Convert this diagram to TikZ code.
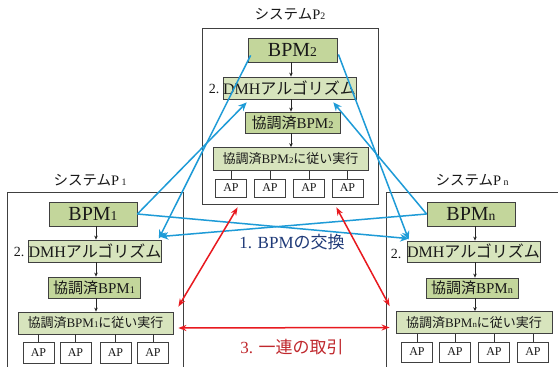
\documentclass[tikz,border=0pt]{standalone}
\usepackage{fontspec}
\setmainfont{Liberation Serif}
\newfontfamily\jp{Noto Sans CJK JP}
\usetikzlibrary{arrows.meta}
\definecolor{dgreen}{HTML}{C3D69B}
\definecolor{lgreen}{HTML}{D7E4BD}
\definecolor{ablue}{HTML}{1E9BD7}
\definecolor{ared}{HTML}{E8191F}
\definecolor{tblue}{HTML}{1F3A78}
\definecolor{tred}{HTML}{C0282D}
\newcommand\sm[1]{\scalebox{0.68}{#1}}
\newcommand\fs[1]{\fontsize{#1}{#1}\selectfont}
\begin{document}
\begin{tikzpicture}[x=1pt,y=-1pt,
  box/.style={draw=black!75, line width=0.8pt, inner sep=0pt, text=black!90},
  dk/.style={box, fill=dgreen},
  lt/.style={box, fill=lgreen},
  apbox/.style={box, fill=white, minimum width=31, font=\fs{12}},
  sys/.style={draw=black!75, line width=0.8pt, inner sep=0pt},
  flow/.style={-{Stealth[length=4pt,width=3.5pt]}, line width=0.6pt, black!85},
  conn/.style={line width=0.6pt, black!80},
  barr/.style={ablue, line width=1.5pt, -{Stealth[length=8.5pt,width=7.5pt]}},
  rarr/.style={ared, line width=1.5pt, {Stealth[length=8pt,width=6pt]}-{Stealth[length=8pt,width=6pt]}},
  ttl/.style={font=\fs{14.5}, text=black!90},
  num/.style={font=\fs{14}, text=black!90}]
\useasboundingbox (0,0) rectangle (558,367);
\clip (0,0) rectangle (558,367);
\fill[white] (0,0) rectangle (558,367);

% ---------------- System P2 ----------------
\node[ttl] (t2) at (290,14) {{\jp システム}P\sm{2}};
\node[sys, minimum width=176, minimum height=176] (p2) at (290,116) {};
\node[dk, minimum width=89, minimum height=24, font=\fs{20}] (bpm2) at (292.5,50) {BPM\sm{2}};
\node[lt, minimum width=127, minimum height=22, font=\fs{16}] (dmh2) at (289.5,88) {DMH{\jp アルゴリズム}};
\node[num] (n2) at (214,89) {2.};
\node[dk, minimum width=95, minimum height=21, font=\fs{15}] (k2) at (292.5,122.5) {{\jp 協調済}BPM\sm{2}};
\node[lt, minimum width=155, minimum height=23, font=\fs{13}] (e2) at (290.5,159) {{\jp 協調済}BPM\sm{2}{\jp に従い実行}};
\foreach \i/\x in {1/231,2/270,3/309,4/347.5}{
  \node[apbox, minimum height=18] (ap2\i) at (\x,188) {AP};
  \draw[conn] (ap2\i.north) -- (ap2\i.north |- e2.south);
}
\draw[flow] (bpm2.south -| 291,0) -- (dmh2.north -| 291,0);
\draw[flow] (dmh2.south -| 291,0) -- (k2.north -| 291,0);
\draw[flow] (k2.south -| 291,0) -- (e2.north -| 291,0);

% ---------------- System P1 ----------------
\node[ttl] (t1) at (90,180) {{\jp システム}P\,\sm{1}};
\node[sys, minimum width=176, minimum height=188] (p1) at (95,286) {};
\node[dk, minimum width=88, minimum height=24, font=\fs{20}] (bpm1) at (93,214) {BPM\sm{1}};
\node[lt, minimum width=128, minimum height=22, font=\fs{16}] (dmh1) at (95,251) {DMH{\jp アルゴリズム}};
\node[num] (n1) at (19,252) {2.};
\node[dk, minimum width=92, minimum height=21, font=\fs{15}] (k1) at (94,287.5) {{\jp 協調済}BPM\sm{1}};
\node[lt, minimum width=155, minimum height=22, font=\fs{13}] (e1) at (95.5,323) {{\jp 協調済}BPM\sm{1}{\jp に従い実行}};
\foreach \i/\x in {1/38.5,2/75.5,3/115.5,4/153}{
  \node[apbox, minimum height=21] (ap1\i) at (\x,352.5) {AP};
  \draw[conn] (ap1\i.north) -- (ap1\i.north |- e1.south);
}
\draw[flow] (bpm1.south -| 96,0) -- (dmh1.north -| 96,0);
\draw[flow] (dmh1.south -| 96,0) -- (k1.north -| 96,0);
\draw[flow] (k1.south -| 96,0) -- (e1.north -| 96,0);

% ---------------- System Pn ----------------
\node[ttl] (tn) at (472,180) {{\jp システム}P\,\sm{n}};
\node[sys, minimum width=184, minimum height=188] (pn) at (478,286) {};
\node[dk, minimum width=88, minimum height=24, font=\fs{20}] (bpmn) at (471,214) {BPM\sm{n}};
\node[lt, minimum width=127, minimum height=21, font=\fs{16}] (dmhn) at (473.5,251.5) {DMH{\jp アルゴリズム}};
\node[num] (nn) at (396,254) {2.};
\node[dk, minimum width=92, minimum height=20, font=\fs{15}] (kn) at (472,288) {{\jp 協調済}BPM\sm{n}};
\node[lt, minimum width=156, minimum height=22, font=\fs{13}] (en) at (474,322.5) {{\jp 協調済}BPM\sm{n}{\jp に従い実行}};
\foreach \i/\x in {1/417,2/455,3/494,4/533}{
  \node[apbox, minimum height=20] (apn\i) at (\x,352) {AP};
  \draw[conn] (apn\i.north) -- (apn\i.north |- en.south);
}
\draw[flow] (bpmn.south -| 475,0) -- (dmhn.north -| 475,0);
\draw[flow] (dmhn.south -| 475,0) -- (kn.north -| 475,0);
\draw[flow] (kn.south -| 475,0) -- (en.north -| 475,0);

% ---------------- BPM exchange (blue) ----------------
\draw[barr] (bpm1.east) -- ([xshift=24,yshift=-3]dmh2.south west);
\draw[barr] (bpm1.east) -- ([xshift=2,yshift=2]dmhn.north west);
\draw[barr] (bpmn.west) -- ([xshift=-23,yshift=-3]dmh2.south east);
\draw[barr] (bpmn.west) -- ([xshift=-2,yshift=3]dmh1.north east);
\draw[barr] ([xshift=3,yshift=7]bpm2.south west) -- ([xshift=-3,yshift=1]dmh1.north east);
\draw[barr] ([xshift=1,yshift=8]bpm2.south east) -- ([xshift=2,yshift=1]dmhn.north west);

% ---------------- transactions (red) ----------------
\draw[rarr] ([xshift=36,yshift=-3]p2.south west) -- ([xshift=5,yshift=5]e1.north east);
\draw[rarr] ([xshift=-42,yshift=-3]p2.south east) -- ([xshift=-6,yshift=5]en.north west);
\draw[rarr] ([xshift=5,yshift=-5]e1.east) -- ([xshift=-6,yshift=-5]en.west);

% ---------------- labels ----------------
\node[font=\fs{17}, text=tblue] (l1) at (292,242) {1. BPM{\jp の交換}};
\node[font=\fs{17}, text=tred] (l3) at (292,347) {3. {\jp 一連の取引}};
\end{tikzpicture}
\end{document}
